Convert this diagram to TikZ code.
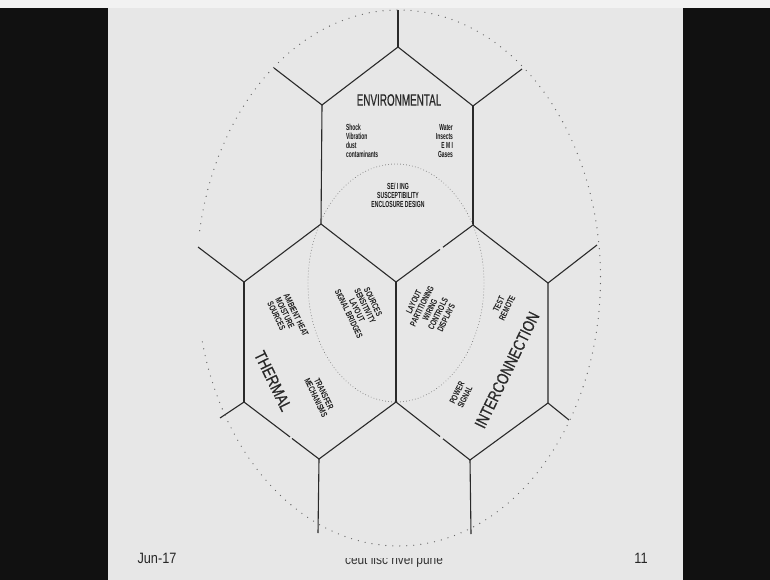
\documentclass[tikz,border=0pt]{standalone}
\usepackage{fontspec}
\setmainfont{Liberation Sans}
\newfontfamily\heavyfont[FakeBold=0.7]{Liberation Sans}
\usetikzlibrary{calc}
\definecolor{slide}{HTML}{E7E7E7}
\definecolor{barc}{HTML}{111111}
\definecolor{inkc}{HTML}{2A2A2A}
\begin{document}
\begin{tikzpicture}[x=1pt,y=-1pt,
  hexline/.style={draw=inkc, line width=1.1pt},
  outerdots/.style={draw=black!60, line width=1.3pt, line cap=round, dash pattern=on 0pt off 7pt},
  innerdots/.style={draw=black!55, line width=0.9pt, line cap=round, dash pattern=on 0pt off 3pt},
  bigtxt/.style={font=\heavyfont\fontsize{16.5}{16.5}\selectfont, inner sep=0pt, text=inkc},
  smalltxt/.style={font=\bfseries\fontsize{8.8}{9}\selectfont, inner sep=0pt, text=black!90},
  foot/.style={font=\fontsize{15}{15}\selectfont, inner sep=0pt, text=black!85},
]
\useasboundingbox (0,0) rectangle (770,580);
% background
\fill[barc] (0,0) rectangle (770,580);
\fill[slide] (108,0) rectangle (683,580);
\fill[white!95!black] (0,0) rectangle (770,8);

% coordinates
\coordinate (top0) at (398,10);
\coordinate (eT) at (398,47);
\coordinate (eUL) at (322,105);
\coordinate (eUR) at (473,106);
\coordinate (eLL) at (321,224);
\coordinate (eLR) at (473,225);
\coordinate (cM) at (396,282);
\coordinate (tUL) at (244,282);
\coordinate (tLL) at (244,402);
\coordinate (cB) at (396,402);
\coordinate (tB) at (319,459);
\coordinate (iUR) at (548,283);
\coordinate (iLR) at (548,403);
\coordinate (iB) at (470,460);
\coordinate (oUL) at (274,68);
\coordinate (oUR) at (522,69);
\coordinate (oTL) at (198,247);
\coordinate (oTLL) at (220,418);
\coordinate (oTB) at (318,533);
\coordinate (oIB) at (471,534);
\coordinate (oIR) at (597,245);
\coordinate (oILR) at (569,420);

% hexagon lines
\draw[hexline] (top0) -- (eT);
\draw[hexline] (oUL) -- (eUL) -- (eT) -- (eUR) -- (oUR);
\draw[hexline] (eUL) -- (eLL);
\draw[hexline] (eUR) -- (eLR);
\draw[hexline] (eLL) -- (cM);
\draw[hexline] (cM) -- ($(cM)!0.571!(eLR)$);
\draw[hexline] ($(cM)!0.61!(eLR)$) -- (eLR);
\draw[hexline] (oTL) -- (tUL) -- (eLL);
\draw[hexline] (tUL) -- (tLL);
\draw[hexline] (cM) -- (cB);
\draw[hexline] (oTLL) -- (tLL) -- ($(tLL)!0.613!(tB)$);
\draw[hexline] ($(tLL)!0.64!(tB)$) -- (tB) -- (cB);
\draw[hexline] (tB) -- (oTB);
\draw[hexline] (cB) -- ($(cB)!0.595!(iB)$);
\draw[hexline] ($(cB)!0.635!(iB)$) -- (iB) -- (iLR);
\draw[hexline] (iB) -- (oIB);
\draw[hexline] (eLR) -- (iUR) -- (oIR);
\draw[hexline] (iUR) -- (iLR) -- (oILR);

% dotted ellipses
\draw[outerdots] plot[smooth, samples=240, domain=-166.2:171.2] ({398.5+202*cos(\x)},{278-268*sin(\x)});
\draw[innerdots] (396,283) ellipse [x radius=88, y radius=119];

% environmental
\node[bigtxt, xscale=0.6] (envt) at (399,100) {ENVIRONMENTAL};
\node[smalltxt, xscale=0.56, align=left, anchor=west] (envl) at (346,141) {Shock\\Vibration\\dust\\contaminants};
\node[smalltxt, xscale=0.56, align=right, anchor=east] (envr) at (453,141) {Water\\Insects\\E M I\\Gases};
\node[smalltxt, xscale=0.58, align=center] (seal) at (398,195) {SE/ I ING\\SUSCEPTIBILITY\\ENCLOSURE DESIGN};

% thermal
\node[bigtxt, rotate=-64, xscale=0.82] (therm) at (273,381) {THERMAL};
\node[smalltxt, rotate=-64, xscale=0.7, align=left] (amb) at (288,319) {AMBIENT HEAT\\MOISTURE\\SOURCES};
\node[smalltxt, rotate=-64, xscale=0.7, align=center] (src) at (361,308) {SOURCES\\SENSITIVITY\\LAYOUT\\SIGNAL BRIDGES};
\node[smalltxt, rotate=-64, xscale=0.7, align=center] (trf) at (320,396) {TRANSFER\\MECHANISMS};

% interconnection
\node[bigtxt, rotate=64, xscale=0.79] (inter) at (507,370) {INTERCONNECTION};
\node[smalltxt, rotate=64, xscale=0.7, align=center] (lay) at (430,310) {LAYOUT\\PARTITIONING\\WIRING\\CONTROLS\\DISPLAYS};
\node[smalltxt, rotate=64, xscale=0.7, align=center] (tst) at (503,306) {TEST\\REMOTE};
\node[smalltxt, rotate=64, xscale=0.7, align=left] (pwr) at (461,395) {POWER\\SIGNAL};

% footer
\node[foot, xscale=0.85] (date) at (157,558) {Jun-17};
\node[foot, xscale=0.85] (pg) at (641,558) {11};
\begin{scope}
\clip (300,558) rectangle (500,575);
\node[font=\fontsize{14}{14}\selectfont, inner sep=0pt, anchor=base, xscale=0.85, text=black!80] (src2) at (394,564.5) {ceut lisc rivel pune};
\end{scope}
\end{tikzpicture}
\end{document}
